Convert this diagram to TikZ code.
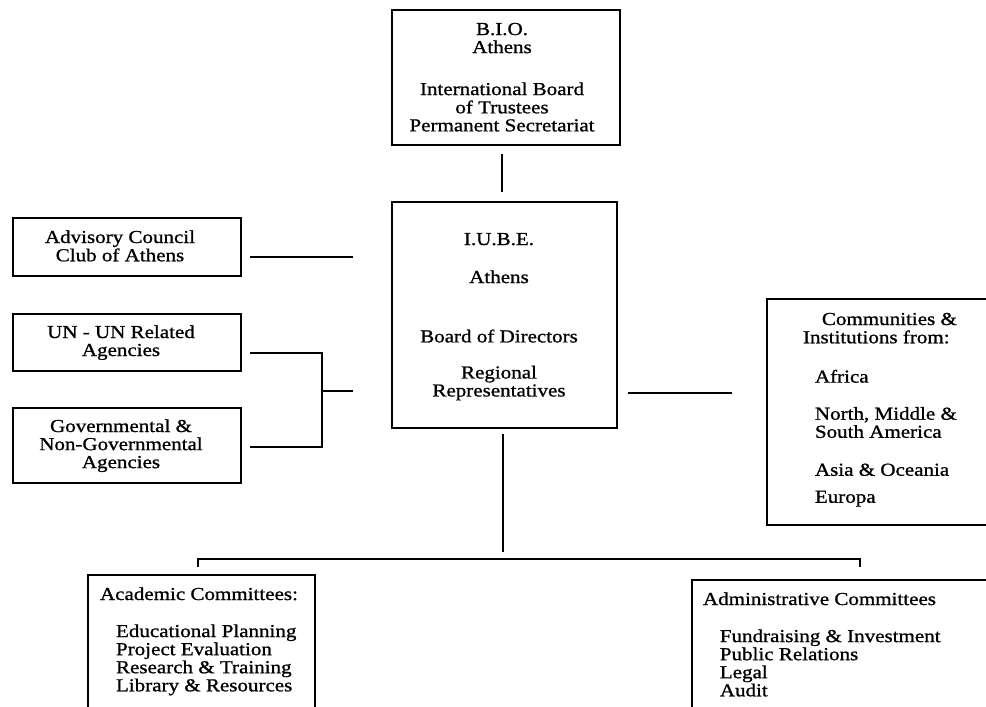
\documentclass[tikz,border=0pt]{standalone}
\usepackage{fontspec}
\setmainfont{Liberation Serif}[FakeStretch=1.15,FakeBold=1]
\usetikzlibrary{calc}
\begin{document}
\begin{tikzpicture}[x=0.025cm,y=-0.025cm,
  box/.style={draw,line width=0.9pt,inner sep=0pt,outer sep=0pt,rectangle,anchor=north west},
  lbl/.style={inner sep=0pt,outer sep=0pt,font=\fontsize{13}{12.8}\selectfont},
  conn/.style={line width=0.9pt}]
\useasboundingbox (0,0) rectangle (986,706);
\fill[white] (0,0) rectangle (986,706);
\clip (0,0) rectangle (986,706);

% boxes
\node[box, minimum width=5.7cm,   minimum height=3.375cm] (bio)   at (392,10)  {};
\node[box, minimum width=5.625cm, minimum height=5.65cm]  (iube)  at (392,202) {};
\node[box, minimum width=5.7cm,   minimum height=1.45cm]  (adv)   at (13,218)  {};
\node[box, minimum width=5.7cm,   minimum height=1.425cm] (un)    at (13,314)  {};
\node[box, minimum width=5.7cm,   minimum height=1.875cm] (gov)   at (13,408)  {};
\node[box, minimum width=6cm,     minimum height=5.65cm]  (com)   at (767,299) {};
\node[box, minimum width=5.675cm, minimum height=3.75cm]  (acad)  at (88,575)  {};
\node[box, minimum width=8cm,     minimum height=3.75cm]  (admin) at (692,580) {};

% texts
\node[lbl, anchor=base] (bioT) at (502,35) {\begin{tabular}[t]{@{}c@{}}B.I.O.\\ Athens\\[17pt] International Board\\ of Trustees\\ Permanent Secretariat\end{tabular}};
\node[lbl, anchor=base] (iubeT) at (499,245) {\begin{tabular}[t]{@{}c@{}}I.U.B.E.\\[14.2pt] Athens\\[29.2pt] Board of Directors\\[12.8pt] Regional\\ Representatives\end{tabular}};
\node[lbl, anchor=base] (advT) at (120,243) {\begin{tabular}[t]{@{}c@{}}Advisory Council\\ Club of Athens\end{tabular}};
\node[lbl, anchor=base] (unT) at (121,338) {\begin{tabular}[t]{@{}c@{}}UN - UN Related\\ Agencies\end{tabular}};
\node[lbl, anchor=base] (govT) at (121,432) {\begin{tabular}[t]{@{}c@{}}Governmental \&\\ Non-Governmental\\ Agencies\end{tabular}};
\node[lbl, anchor=base west] (comT) at (803,325) {\begin{tabular}[t]{@{}l@{}}\multicolumn{1}{@{}r@{}}{Communities \&}\\ Institutions from:\\[15pt]
  \hspace*{8.5pt}Africa\\[13.5pt]
  \hspace*{8.5pt}North, Middle \&\\
  \hspace*{8.5pt}South America\\[14.2pt]
  \hspace*{8.5pt}Asia \& Oceania\\[6.4pt]
  \hspace*{8.5pt}Europa\end{tabular}};
\node[lbl, anchor=base west] (acadT) at (100,600) {\begin{tabular}[t]{@{}l@{}}Academic Committees:\\[13.5pt]
  \hspace*{11.4pt}Educational Planning\\
  \hspace*{11.4pt}Project Evaluation\\
  \hspace*{11.4pt}Research \& Training\\
  \hspace*{11.4pt}Library \& Resources\end{tabular}};
\node[lbl, anchor=base west] (adminT) at (703,605) {\begin{tabular}[t]{@{}l@{}}Administrative Committees\\[13.5pt]
  \hspace*{12pt}Fundraising \& Investment\\
  \hspace*{12pt}Public Relations\\
  \hspace*{12pt}Legal\\
  \hspace*{12pt}Audit\end{tabular}};

% connectors
\coordinate (cx1) at (502,0);
\draw[conn, shorten <=0.225cm, shorten >=0.25cm] (bio.south -| cx1) -- (iube.north -| cx1);
\coordinate (r1) at (0,257);
\draw[conn, shorten <=0.225cm, shorten >=0.975cm] (adv.east |- r1) -- (iube.west |- r1);
\coordinate (r2) at (0,353);
\coordinate (r3) at (0,447);
\coordinate (jn) at (322,391);
\draw[conn, shorten <=0.225cm, shorten >=0.225cm] (un.east |- r2) -| (jn) |- (gov.east |- r3);
\draw[conn, shorten >=0.975cm] (jn) -- (iube.west |- jn);
\coordinate (r4) at (0,393);
\draw[conn, shorten <=0.275cm, shorten >=0.875cm] (iube.east |- r4) -- (com.west |- r4);
\coordinate (vb) at (503,552);
\draw[conn, shorten <=0.15cm] (iube.south -| vb) -- (vb);
\coordinate (hl) at (198,559);
\coordinate (hr) at (860,559);
\draw[conn, shorten <=0.2cm, shorten >=0.325cm] (acad.north -| hl) -- (hl) -- (hr) -- (admin.north -| hr);
\end{tikzpicture}
\end{document}
